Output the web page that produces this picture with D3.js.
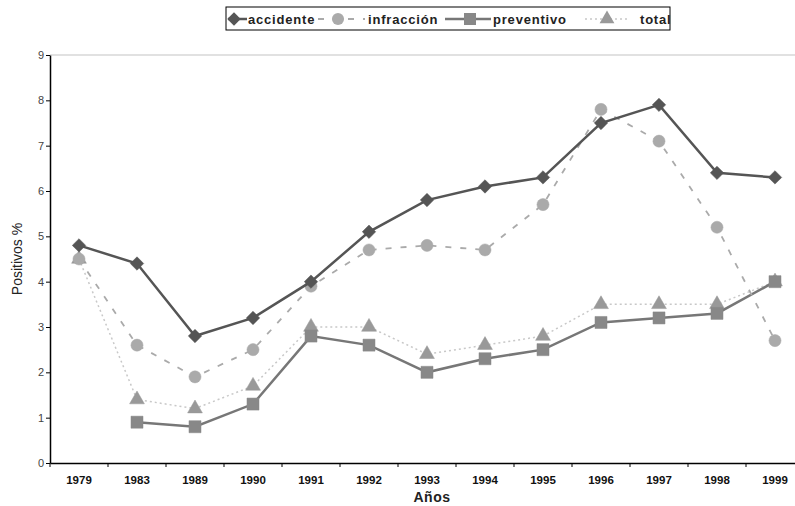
<!DOCTYPE html>
<html>
<head>
<meta charset="utf-8">
<script src="https://cdn.jsdelivr.net/npm/d3@7"></script>
<style>
  body { margin: 0; background: #fff; }
  svg { display: block; font-family: "Liberation Sans", Arial, sans-serif; }
</style>
</head>
<body>
<div id="chart"></div>
<script>
const years = ["1979", "1983", "1989", "1990", "1991", "1992", "1993", "1994", "1995", "1996", "1997", "1998", "1999"];

const accidente = [4.8, 4.4, 2.8, 3.2, 4.0, 5.1, 5.8, 6.1, 6.3, 7.5, 7.9, 6.4, 6.3];
const infraccion = [4.5, 2.6, 1.9, 2.5, 3.9, 4.7, 4.8, 4.7, 5.7, 7.8, 7.1, 5.2, 2.7];
const preventivo = [null, 0.9, 0.8, 1.3, 2.8, 2.6, 2.0, 2.3, 2.5, 3.1, 3.2, 3.3, 4.0];
const total = [4.5, 1.4, 1.2, 1.7, 3.0, 3.0, 2.4, 2.6, 2.8, 3.5, 3.5, 3.5, 4.0];

const yTicks = [0, 1, 2, 3, 4, 5, 6, 7, 8, 9];

// diamond drawn as a square turned 45 degrees
const rotatedSquare = {
  draw(context, size) {
    const r = Math.sqrt(size / 2);
    context.moveTo(0, -r);
    context.lineTo(r, 0);
    context.lineTo(0, r);
    context.lineTo(-r, 0);
    context.closePath();
  }
};

const series = [
  { name: "accidente", values: accidente, stroke: "#555", width: 2.5, dash: null, symbol: rotatedSquare, size: 90, fill: "#555", edge: "#555" },
  { name: "infracción", values: infraccion, stroke: "#aaa", width: 1.8, dash: "6,9", symbol: d3.symbolCircle, size: 115, fill: "#aaa", edge: "#aaa" },
  { name: "preventivo", values: preventivo, stroke: "#777", width: 2.5, dash: null, symbol: d3.symbolSquare, size: 145, fill: "#888", edge: "#888" },
  { name: "total", values: total, stroke: "#c8c8c8", width: 1.5, dash: "2,3", symbol: d3.symbolTriangle, size: 95, fill: "#999", edge: "#999" }
];

const width = 795;
const height = 506;
const margin = { top: 55, left: 50, bottom: 43 };

const svg = d3.select("#chart").append("svg")
  .attr("width", width)
  .attr("height", height);

const x = d3.scaleBand()
  .domain(years)
  .range([margin.left, margin.left + years.length * 58])
  .paddingInner(0)
  .paddingOuter(0);

const y = d3.scaleLinear()
  .domain([0, 9])
  .range([height - margin.bottom, margin.top]);

const cx = (i) => x(years[i]) + x.bandwidth() / 2;

// top border of plot area
svg.append("line")
  .attr("x1", margin.left).attr("x2", width)
  .attr("y1", y(9)).attr("y2", y(9))
  .attr("stroke", "#aaa").attr("stroke-width", 0.7);

// y axis
const yAxis = svg.append("g")
  .attr("transform", `translate(${margin.left},0)`)
  .call(d3.axisLeft(y).tickValues(yTicks).tickSize(4).tickSizeOuter(0));
yAxis.select(".domain").attr("stroke", "#000").attr("stroke-width", 1.5);
yAxis.selectAll(".tick line").attr("stroke", "#000");
yAxis.selectAll(".tick text")
  .attr("font-size", 11)
  .attr("fill", "#444")
  .attr("x", -6);

// x axis
const xAxis = svg.append("g")
  .attr("transform", `translate(0,${y(0)})`)
  .call(d3.axisBottom(x).tickSize(0).tickSizeOuter(0));
xAxis.select(".domain").attr("stroke", "#000").attr("stroke-width", 1.5);
xAxis.selectAll(".tick text")
  .attr("font-size", 11.5)
  .attr("font-weight", "bold")
  .attr("fill", "#111")
  .attr("dy", "1.6em");
xAxis.selectAll(".boundary")
  .data(years)
  .join("line")
  .attr("x1", (d) => x(d)).attr("x2", (d) => x(d))
  .attr("y1", 0).attr("y2", 4)
  .attr("stroke", "#000");

// axis titles
svg.append("text")
  .attr("transform", `translate(22,${(y(0) + y(9)) / 2}) rotate(-90)`)
  .attr("text-anchor", "middle")
  .attr("font-size", 14)
  .attr("fill", "#222")
  .text("Positivos %");

svg.append("text")
  .attr("x", 432)
  .attr("y", 502)
  .attr("text-anchor", "middle")
  .attr("font-size", 14)
  .attr("font-weight", "bold")
  .attr("letter-spacing", 0.5)
  .attr("fill", "#222")
  .text("Años");

// lines and markers, drawn last series first
const line = d3.line()
  .defined((d) => d != null)
  .x((d, i) => cx(i))
  .y((d) => y(d));

series.slice().reverse().forEach((s) => {
  svg.append("path")
    .datum(s.values)
    .attr("fill", "none")
    .attr("stroke", s.stroke)
    .attr("stroke-width", s.width)
    .attr("stroke-dasharray", s.dash)
    .attr("d", line);

  svg.append("g")
    .selectAll("path")
    .data(s.values.map((v, i) => ({ v, i })).filter((d) => d.v != null))
    .join("path")
    .attr("transform", (d) => `translate(${cx(d.i)},${y(d.v)})`)
    .attr("d", d3.symbol(s.symbol, s.size))
    .attr("fill", s.fill)
    .attr("stroke", s.edge)
    .attr("stroke-width", 0.5);
});

// legend
const legend = svg.append("g");
legend.append("rect")
  .attr("x", 226).attr("y", 7)
  .attr("width", 444).attr("height", 23)
  .attr("fill", "#fff")
  .attr("stroke", "#000")
  .attr("stroke-width", 1);

const legendPos = [
  { x0: 228, x1: 247, m: 234, tx: 248 },
  { x0: 318, x1: 365, m: 338, tx: 368 },
  { x0: 445, x1: 491, m: 470, tx: 493 },
  { x0: 585, x1: 630, m: 607, tx: 640 }
];

series.forEach((s, i) => {
  const p = legendPos[i];
  const ly = 19;
  legend.append("line")
    .attr("x1", p.x0).attr("x2", p.x1)
    .attr("y1", ly).attr("y2", ly)
    .attr("stroke", s.stroke)
    .attr("stroke-width", s.width)
    .attr("stroke-dasharray", s.dash);
  legend.append("path")
    .attr("transform", `translate(${p.m},${ly})`)
    .attr("d", d3.symbol(s.symbol, s.size))
    .attr("fill", s.fill);
  legend.append("text")
    .attr("x", p.tx)
    .attr("y", ly + 5)
    .attr("font-size", 13)
    .attr("font-weight", "bold")
    .attr("letter-spacing", 0.8)
    .attr("fill", "#222")
    .text(s.name);
});
</script>
</body>
</html>
